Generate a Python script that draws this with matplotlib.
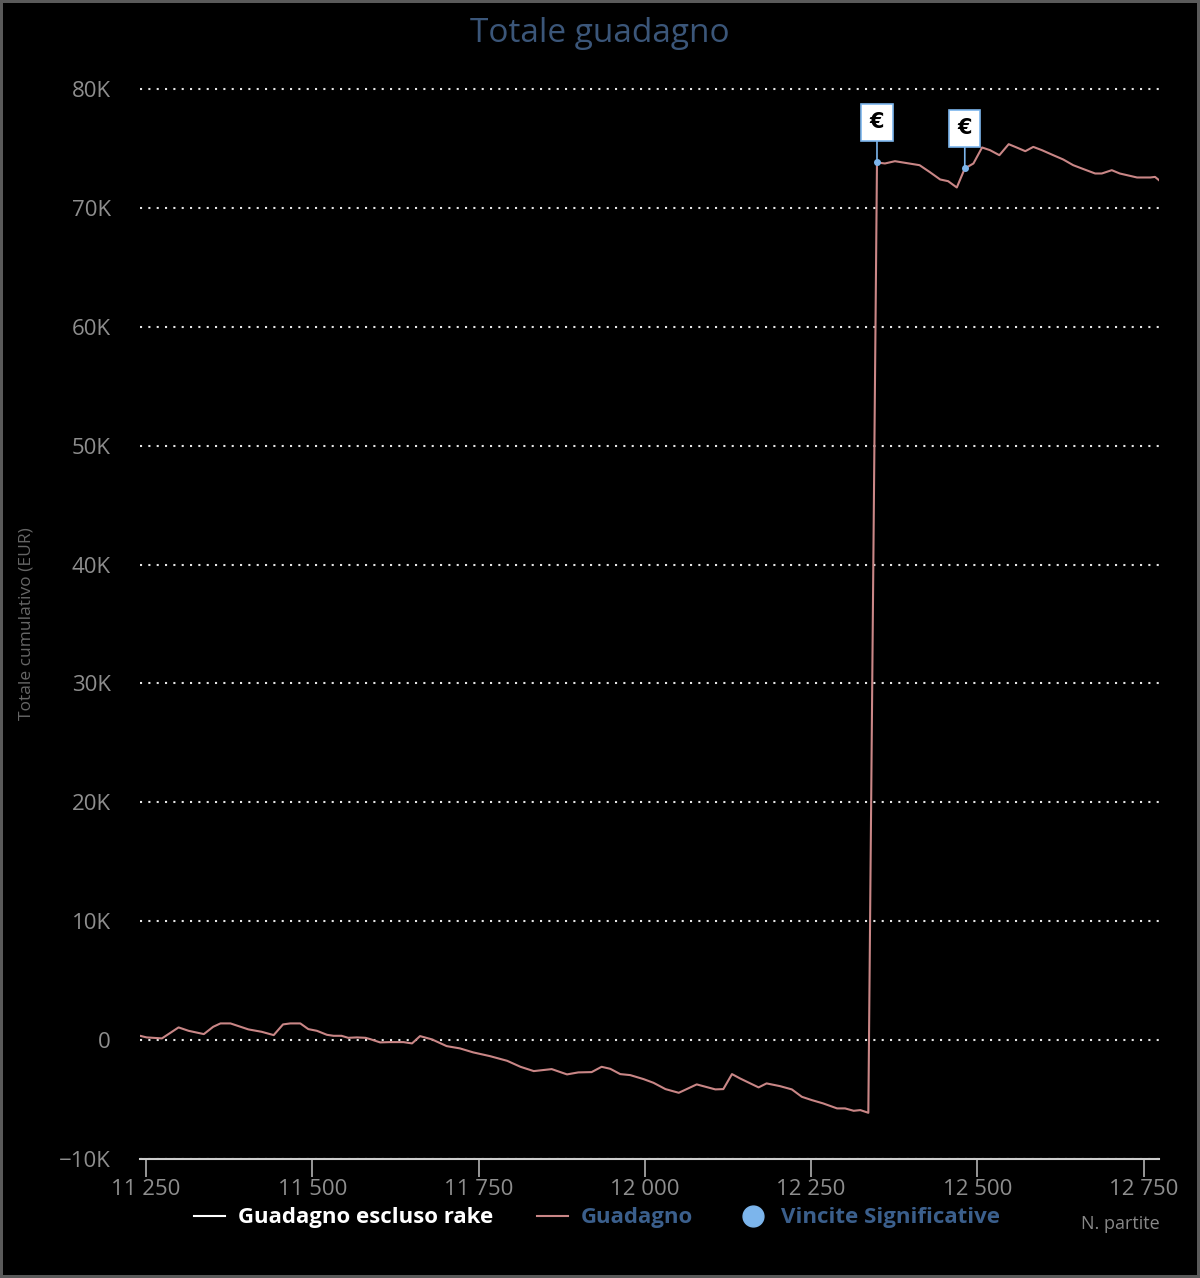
import matplotlib.pyplot as plt
from matplotlib.lines import Line2D
from matplotlib.ticker import FuncFormatter, MultipleLocator

# dati (N. partite -> guadagno cumulativo in EUR)
partite = [11241, 11251, 11274, 11299, 11314, 11337, 11351, 11362, 11377, 11404,
           11424, 11442, 11456, 11467, 11482, 11494, 11507, 11522, 11532, 11544,
           11554, 11567, 11580, 11587, 11602, 11617, 11637, 11650, 11662, 11680,
           11702, 11722, 11742, 11767, 11793, 11813, 11833, 11860, 11883, 11900,
           11920, 11935, 11948, 11963, 11978, 11998, 12013, 12031, 12051, 12078,
           12106, 12118, 12131, 12143, 12171, 12183, 12203, 12221, 12236, 12251,
           12268, 12289, 12301, 12314, 12324, 12336,
           12349, 12361, 12376, 12413, 12428, 12444, 12456, 12469, 12481, 12494,
           12507, 12519, 12533, 12547, 12559, 12572, 12584, 12597, 12614, 12629,
           12644, 12657, 12677, 12687, 12702, 12714, 12740, 12760, 12767, 12773]
guadagno = [362, 227, 143, 1068, 782, 505, 1119, 1404, 1404, 900,
            698, 420, 1320, 1404, 1404, 925, 782, 446, 362, 362,
            193, 227, 193, 84, -193, -168, -168, -278, 336, 59,
            -505, -698, -1034, -1346, -1741, -2245, -2607, -2439, -2885, -2716,
            -2691, -2245, -2414, -2859, -2944, -3280, -3591, -4121, -4432, -3726,
            -4146, -4121, -2859, -3221, -3978, -3642, -3869, -4146, -4768, -5046,
            -5324, -5744, -5744, -5946, -5887, -6113,
            73815, 73731, 73924, 73588, 73024, 72385, 72242, 71712, 73310, 73731,
            75077, 74849, 74429, 75354, 75077, 74765, 75127, 74849, 74429, 74067,
            73588, 73310, 72889, 72889, 73167, 72889, 72553, 72553, 72603, 72326]

# vincite significative (bandierine €)
vincite_x = [12349, 12481]
vincite_y = [73815, 73310]

W, H = 1200, 1278
fig = plt.figure(figsize=(W / 100, H / 100), dpi=100, facecolor="black",
                 edgecolor="#5a5a5a", linewidth=3)
plt.rcParams['font.family'] = ['Open Sans', 'DejaVu Sans']

ax = fig.add_axes([140 / W, 119 / H, (1159 - 140) / W, (1278 - 83 - 119) / H])
ax.set_facecolor("black")
ax.set_xlim(11241, 12773)
ax.set_ylim(-10000, 80500)

ax.plot(partite, guadagno, color="#c98686", lw=1.5, zorder=3)

# bandierine
for xv, yv in zip(vincite_x, vincite_y):
    ax.plot(xv, yv, "o", ms=4, color="#7cb5ec", zorder=5)
    ax.annotate("€", xy=(xv, yv), xytext=(0, 40), textcoords="offset pixels",
                ha="center", va="center", fontsize=15, fontweight="bold",
                color="black", family="DejaVu Sans",
                bbox=dict(boxstyle="square,pad=0.4", fc="white", ec="#7cb5ec", lw=1.2),
                arrowprops=dict(arrowstyle="-", color="#7cb5ec", lw=1.2,
                                shrinkA=0, shrinkB=0),
                zorder=6)

# griglia tratteggiata
ax.yaxis.set_major_locator(MultipleLocator(10000))
ax.xaxis.set_major_locator(MultipleLocator(250))
ax.grid(axis="y", color="#e6e6e6", lw=1.5, ls=(0, (1, 3)))
ax.set_axisbelow(True)

for s in ("left", "right", "top"):
    ax.spines[s].set_visible(False)
ax.spines["bottom"].set_color("#cccccc")
ax.spines["bottom"].set_linewidth(1.5)

ax.yaxis.set_major_formatter(FuncFormatter(
    lambda v, p: "0" if v == 0 else f"{int(v / 1000)}K".replace("-", "\u2212")))
ax.xaxis.set_major_formatter(FuncFormatter(
    lambda v, p: f"{int(v):,}".replace(",", " ")))
ax.tick_params(axis="x", length=13, width=1.1, color="#c0c0c0",
               labelsize=16, labelcolor="#8e8e8e", pad=1.5)
ax.tick_params(axis="y", length=0, labelsize=16, labelcolor="#8e8e8e", pad=21)

fig.text(0.5, 1 - 33 / H, "Totale guadagno", ha="center", va="center",
         fontsize=24, color="#3b5679")
fig.text(27 / W, 1 - 624 / H, "Totale cumulativo (EUR)", rotation=90,
         ha="center", va="center", fontsize=12.5, color="#666666")
fig.text(1160 / W, 1 - 1224 / H, "N. partite", ha="right", va="center",
         fontsize=13, color="#888888")

handles = [Line2D([], [], color="white", lw=1.5),
           Line2D([], [], color="#c98686", lw=1.5),
           Line2D([], [], ls="none", marker="o", ms=15, color="#7cb5ec")]
labels = ["Guadagno escluso rake", "Guadagno", "Vincite Significative"]
leg = fig.legend(handles, labels, loc="center", bbox_to_anchor=(597 / W, 1 - 1218 / H),
                 ncol=3, frameon=False, handlelength=1.4, handletextpad=0.55,
                 columnspacing=2.0, prop=dict(size=16, weight="bold"))
for t, c in zip(leg.get_texts(), ["white", "#3b5f8c", "#3b5f8c"]):
    t.set_color(c)

fig.savefig("out.png", dpi=100, facecolor="black")
